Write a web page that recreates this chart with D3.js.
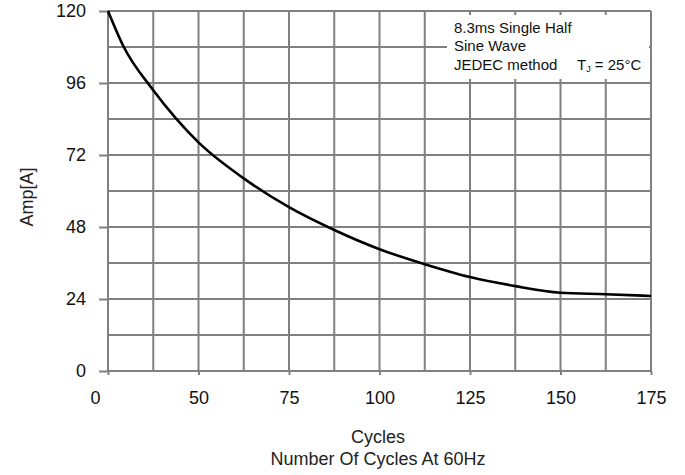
<!DOCTYPE html>
<html>
<head>
<meta charset="utf-8">
<script src="https://cdn.jsdelivr.net/npm/d3@7"></script>
<style>
  body { margin: 0; background: #fff; }
  svg { display: block; font-family: "Liberation Sans", Arial, sans-serif; }
</style>
</head>
<body>
<svg id="chart" width="685" height="475"></svg>
<script>
// surge current vs number of cycles
const cycles = [0, 8.3, 25, 37.4, 50, 62.5, 75, 87.5, 100, 112.5, 125, 137.5, 150, 162.5, 175];
const amps = [120, 108.5, 93.6, 84.3, 76.2, 64.2, 54.6, 47, 40.6, 35.6, 31.3, 28.3, 26.1, 25.6, 25];

const xTicks = [0, 50, 75, 100, 125, 150, 175];
const xGrid = [0, 25, 50, 62.5, 75, 87.5, 100, 112.5, 125, 137.5, 150, 162.5, 175];
const yTicks = [0, 24, 48, 72, 96, 120];
const yGrid = [0, 12, 24, 36, 48, 60, 72, 84, 96, 108, 120];
const noteLines = ["8.3ms Single Half", "Sine Wave", "JEDEC method"];

const gridColor = "#808083";
const svg = d3.select("#chart");
const plotLeft = 108, plotRight = 651, plotTop = 11, plotBottom = 371;

// the printed x axis is not evenly spaced, so use a piecewise scale
const step = (plotRight - plotLeft) / (xTicks.length - 1);
const x = d3.scaleLinear()
  .domain(xTicks)
  .range(xTicks.map((d, i) => plotLeft + i * step));
const y = d3.scaleLinear().domain([0, 120]).range([plotBottom, plotTop]);

// grid
svg.append("g")
  .selectAll("line")
  .data(yGrid)
  .join("line")
  .attr("x1", plotLeft)
  .attr("x2", plotRight)
  .attr("y1", (d) => y(d))
  .attr("y2", (d) => y(d))
  .attr("stroke", gridColor)
  .attr("stroke-width", 2);

svg.append("g")
  .selectAll("line")
  .data(xGrid)
  .join("line")
  .attr("x1", (d) => x(d))
  .attr("x2", (d) => x(d))
  .attr("y1", plotTop)
  .attr("y2", plotBottom)
  .attr("stroke", gridColor)
  .attr("stroke-width", 2);

// axes
const yAxis = svg.append("g")
  .attr("transform", `translate(${plotLeft},0)`)
  .call(d3.axisLeft(y).tickValues(yTicks).tickSize(9).tickPadding(13));
const xAxis = svg.append("g")
  .attr("transform", `translate(0,${plotBottom})`)
  .call(d3.axisBottom(x).tickValues(xTicks).tickSize(4).tickPadding(16));

[yAxis, xAxis].forEach((g) => {
  g.select(".domain").remove();
  g.selectAll(".tick line").attr("stroke", gridColor).attr("stroke-width", 2);
  g.selectAll(".tick text")
    .attr("fill", "#111")
    .style("font-size", "18px")
    .style("font-family", "Liberation Sans, Arial, sans-serif");
});
xAxis.selectAll(".tick text").filter((d) => d === 0).attr("dx", -13);

// note box hides the grid underneath
svg.append("rect")
  .attr("x", 447)
  .attr("y", 15)
  .attr("width", 202)
  .attr("height", 64)
  .attr("fill", "#fff");

const note = svg.append("text")
  .attr("x", 454)
  .attr("fill", "#111")
  .style("font-size", "15px");
noteLines.forEach((t, i) => {
  note.append("tspan").attr("x", 454).attr("y", 33 + i * 18.4).text(t);
});
const tj = svg.append("text")
  .attr("x", 577)
  .attr("y", 33 + 2 * 18.4)
  .attr("fill", "#111")
  .style("font-size", "15px");
tj.append("tspan").text("T");
tj.append("tspan").attr("dy", 2).style("font-size", "9px").text("J");
tj.append("tspan").attr("dy", -2).text(" = 25°C");

// curve
const line = d3.line()
  .x((d, i) => x(cycles[i]))
  .y((d) => y(d))
  .curve(d3.curveMonotoneX);

svg.append("path")
  .datum(amps)
  .attr("d", line)
  .attr("fill", "none")
  .attr("stroke", "#000")
  .attr("stroke-width", 2.6);

// titles
svg.append("text")
  .attr("transform", "translate(33,197) rotate(-90)")
  .attr("text-anchor", "middle")
  .attr("fill", "#222")
  .style("font-size", "18px")
  .text("Amp[A]");

svg.append("text")
  .attr("x", 378)
  .attr("y", 443)
  .attr("text-anchor", "middle")
  .attr("fill", "#222")
  .style("font-size", "18px")
  .text("Cycles");

svg.append("text")
  .attr("x", 378)
  .attr("y", 465)
  .attr("text-anchor", "middle")
  .attr("fill", "#222")
  .style("font-size", "18px")
  .text("Number Of Cycles At 60Hz");
</script>
</body>
</html>
